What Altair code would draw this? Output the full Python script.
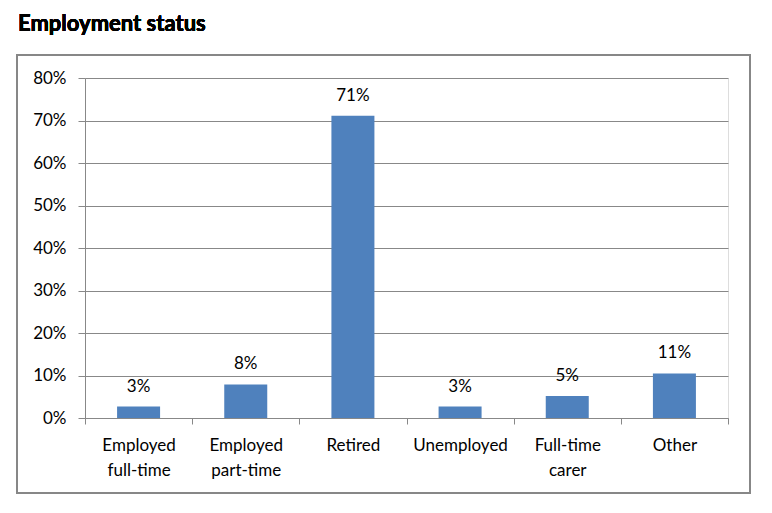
import altair as alt
import pandas as pd

categories = ["Employed full-time", "Employed part-time", "Retired",
              "Unemployed", "Full-time carer", "Other"]
shares = [0.027, 0.079, 0.711, 0.027, 0.052, 0.105]
y_ticks = [0, 0.1, 0.2, 0.3, 0.4, 0.5, 0.6, 0.7, 0.8]
title_text = "Employment status"

df = pd.DataFrame({"category": categories, "share": shares})

FONT = "Lato"
W, H = 643, 340

x_enc = alt.X("category:N", sort=categories, title=None,
              scale=alt.Scale(paddingInner=0, paddingOuter=0),
              axis=alt.Axis(labelAngle=0, labelExpr="split(datum.label, ' ')",
                            labelFontSize=17, labelLineHeight=25, labelPadding=13,
                            labelColor="#000", labelFont=FONT,
                            tickBand="extent", tickSize=6, tickColor="#888",
                            domainColor="#888", grid=False))
y_enc = alt.Y("share:Q", title=None,
              scale=alt.Scale(domain=[0, 0.8], nice=False),
              axis=alt.Axis(values=y_ticks, format=".0%", labelFontSize=17,
                            labelColor="#000", labelFont=FONT, labelPadding=12,
                            tickSize=7, tickColor="#888", domainColor="#888",
                            gridColor="#888", gridWidth=1))

base = alt.Chart(df)

frame = base.mark_rect(fill=None, stroke="#878787", strokeWidth=2).encode(
    x=alt.value(-68), x2=alt.value(665), y=alt.value(-23), y2=alt.value(415)
)

bars = base.mark_bar(color="#4f81bd", size=43).encode(x=x_enc, y=y_enc)

labels = base.mark_text(dy=-20, fontSize=17, font=FONT, color="#000").encode(
    x=alt.X("category:N", sort=categories),
    y=alt.Y("share:Q"),
    text=alt.Text("share:Q", format=".0%"),
)

title = base.mark_text(align="left", baseline="alphabetic", fontSize=22,
                       fontWeight="bold", font=FONT, color="#000").encode(
    x=alt.value(-67), y=alt.value(-47), text=alt.value(title_text)
)

chart = alt.layer(frame, bars, labels, title).properties(
    width=W, height=H,
    autosize=alt.AutoSizeParams(type="none"),
    padding={"left": 77, "top": 70, "right": 30, "bottom": 90},
).configure_view(stroke=None).configure(background="white")

chart.save("out.html", embed_options={"renderer": "svg", "actions": False})
